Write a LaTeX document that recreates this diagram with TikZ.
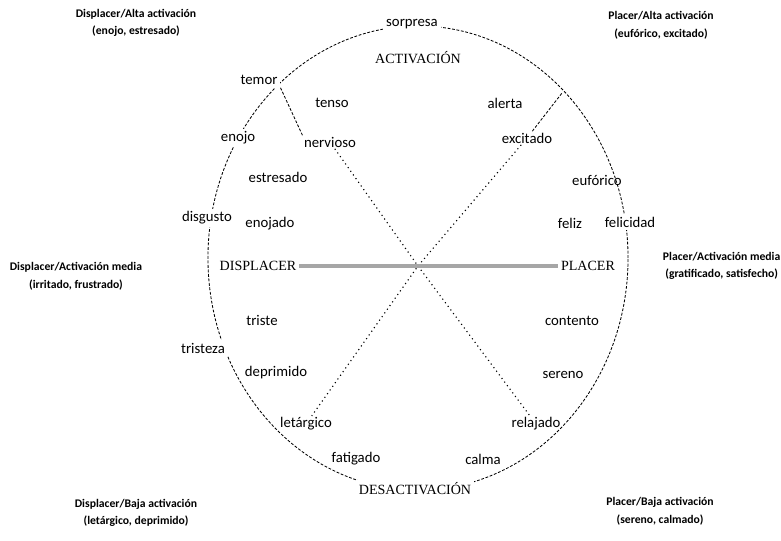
\documentclass[tikz,border=0pt]{standalone}
\usepackage{fontspec}
\setmainfont{Carlito}
\newfontfamily\polefont{Liberation Serif}
\usetikzlibrary{positioning}

\begin{document}
\begin{tikzpicture}[
      x=0.025cm, y=-0.025cm,
      word/.style={font=\fontsize{10.5}{12}\selectfont, inner sep=1pt},
      onrim/.style={word, fill=white, inner sep=2pt},
      pole/.style={font=\polefont\fontsize{10}{12}\selectfont, inner sep=2pt},
      corner/.style={font=\fontsize{8.3}{12.5}\selectfont\bfseries, align=center},
      rim/.style={line width=0.6pt, dash pattern=on 2pt off 1.2pt},
      diag/.style={line width=0.8pt, dash pattern=on 0.8pt off 2.4pt},
      midline/.style={line width=2.5pt, gray!70}
   ]
      \useasboundingbox (0,0) rectangle (781,540);
      \draw[rim] (418,258) ellipse [x radius=5.25cm, y radius=5.8cm];

      % poles
      \node[pole] (act) at (418,58) {ACTIVACIÓN};
      \node[pole] (des) at (415,489) [fill=white] {DESACTIVACIÓN};
      \node[pole] (displ) at (258,266) {DISPLACER};
      \node[pole] (plac) at (588,266) {PLACER};

      % words on the rim
      \node[onrim] (sorp) at (412,24) {sorpresa};
      \node[onrim] (temor) at (259,80) {temor};
      \node[onrim] (enojo) at (238,138) {enojo};
      \node[onrim] (disg) at (207,218) {disgusto};
      \node[onrim] (trza) at (203,348) {tristeza};
      \node[onrim] (felic) at (630,222) {felicidad};

      % words inside
      \node[word] (tenso) at (332,103) {tenso};
      \node[word] (alerta) at (505,103) {alerta};
      \node[word] (nerv) at (330,142) {nervioso};
      \node[word] (exc) at (527,138) {excitado};
      \node[word] (estr) at (278,177) {estresado};
      \node[word] (euf) at (597,180) {eufórico};
      \node[word] (enojado) at (270,224) {enojado};
      \node[word] (feliz) at (570,223) {feliz};
      \node[word] (triste) at (262,320) {triste};
      \node[word] (cont) at (572,321) {contento};
      \node[word] (depr) at (276,373) {deprimido};
      \node[word] (seren) at (563,375) {sereno};
      \node[word] (letar) at (306,424) {letárgico};
      \node[word] (relaj) at (536,424) {relajado};
      \node[word] (fatig) at (356,459) {fatigado};
      \node[word] (calma) at (483,459) {calma};

      % quadrants
      \node[corner] (q1) at (136,23) {Displacer/Alta activación\\(enojo, estresado)};
      \node[corner] (q2) at (661,25) {Placer/Alta activación\\(eufórico, excitado)};
      \node[corner] (q3) at (76,276) {Displacer/Activación media\\(irritado, frustrado)};
      \node[corner, anchor=west] (q4) at (658,266) {Placer/Activación media\\(gratificado, satisfecho)};
      \node[corner] (q5) at (136,513) {Displacer/Baja activación\\(letárgico, deprimido)};
      \node[corner] (q6) at (660,511) {Placer/Baja activación\\(sereno, calmado)};

      \coordinate (cross) at (418,266);
      \coordinate (rimexc) at (562,93);

      \draw[diag] (nerv) -- (cross) -- (relaj);
      \draw[diag] (exc) -- (cross) -- (letar);
      \draw[midline] (displ) -- (plac);
      \draw[rim] (temor.south east) -- (nerv.north west);
      \draw[rim] (exc) -- (rimexc);
   \end{tikzpicture}
\end{document}
